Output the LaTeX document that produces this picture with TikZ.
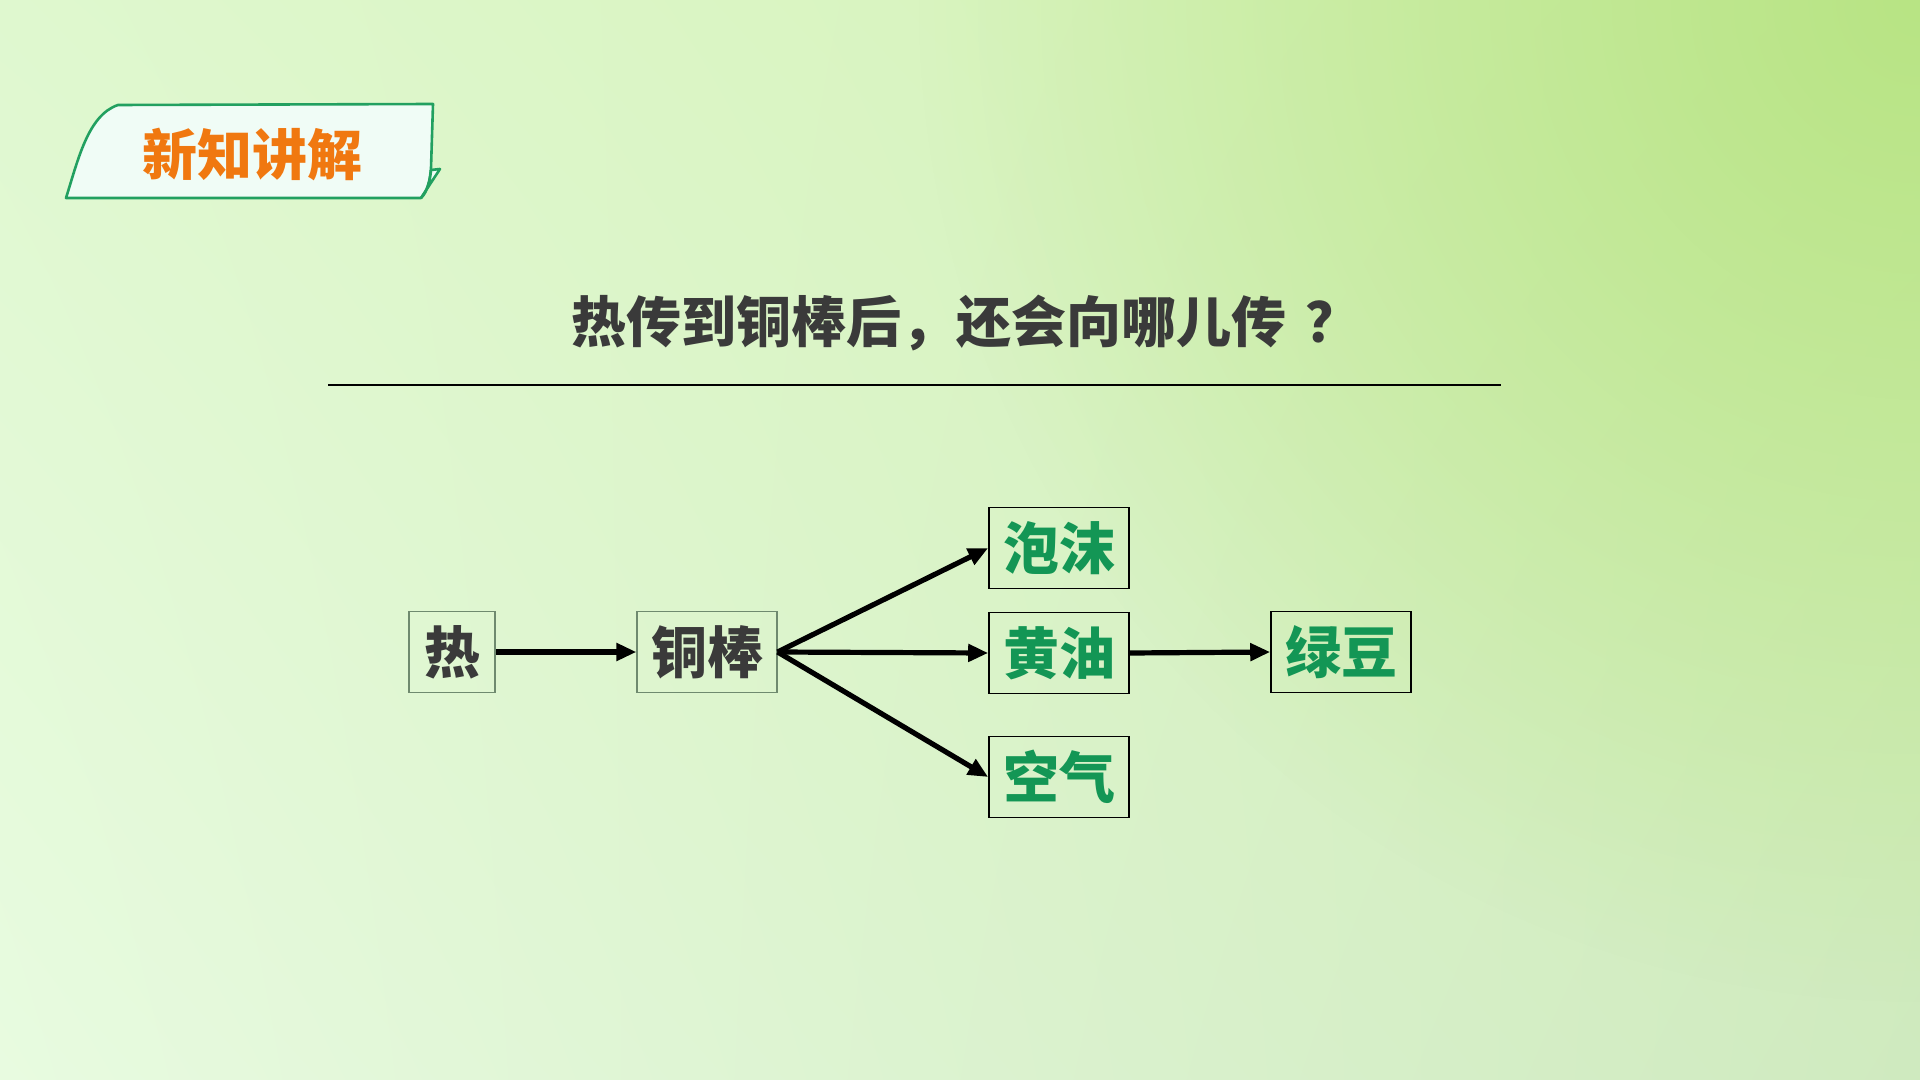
\documentclass[tikz,border=0pt]{standalone}
\usepackage{fontspec}
\newfontfamily\cjk{Noto Sans CJK SC}
\usetikzlibrary{arrows.meta,fadings,shadings}
\definecolor{bgTL}{HTML}{DFF8CF}
\definecolor{bgTR}{HTML}{D2F0B0}
\definecolor{bgBL}{HTML}{E8FBE0}
\definecolor{bgBR}{HTML}{CFEABF}
\definecolor{bgCorner}{HTML}{B8E484}
\definecolor{tabGreen}{HTML}{22A060}
\definecolor{tabFill}{HTML}{F0FCF6}
\definecolor{tabOrange}{HTML}{F07810}
\definecolor{darkText}{HTML}{3A3A3A}
\definecolor{greenText}{HTML}{139655}
\definecolor{grayBorder}{HTML}{6F8A6F}
\tikzfading[name=radfade, inner color=transparent!0, outer color=transparent!100]
\tikzset{
  srcbox/.style={draw=grayBorder, line width=0.6pt, minimum height=40.5pt, inner sep=0pt,
    font=\cjk\bfseries\fontsize{28}{28}\selectfont, text=darkText},
  dstbox/.style={draw=black, line width=0.8pt, minimum width=70pt, minimum height=40.5pt, inner sep=0pt,
    font=\cjk\bfseries\fontsize{28}{28}\selectfont, text=greenText},
  arr/.style={line width=2.6pt, -{Triangle[length=10pt,width=8.5pt]}}
}
\begin{document}
\begin{tikzpicture}[x=0.5pt,y=-0.5pt]
  % background
  \useasboundingbox (0,0) rectangle (1920,1080);
  \begin{scope}
    \clip (0,0) rectangle (1920,1080);
    \shade[upper left=bgTL, upper right=bgTR, lower left=bgBL, lower right=bgBR] (0,0) rectangle (1920,1080);
    \fill[bgCorner, path fading=radfade] (1920,0) circle [radius=500pt];
  \end{scope}
  % tab
  \draw[tabGreen, line width=1.3pt, fill=tabFill, line join=round]
    (66,198) .. controls (78,160) and (88,115) .. (118,105) -- (433,104) -- (431,168)
    .. controls (430,180) and (428,190) .. (421,198) -- cycle;
  \draw[tabGreen, line width=1.3pt, fill=tabFill, line join=round]
    (421,198) -- (440,169) -- (431,170) .. controls (430,182) and (427,192) .. (421,198);
  \node[font=\cjk\bfseries\fontsize{27.5}{28}\selectfont, text=tabOrange] (tab) at (252,155) {新知讲解};
  % title
  \node[font=\cjk\bfseries\fontsize{27.5}{28}\selectfont, text=darkText] (title) at (966,323) {热传到铜棒后，还会向哪儿传\kern10pt？};
  \coordinate (ruleL) at (328,385);
  \coordinate (ruleR) at (1501,385);
  \draw[line width=0.8pt, black] (ruleL) -- (ruleR);
  % nodes
  \node[srcbox, minimum width=43pt] (heat) at (452,652) {热};
  \node[srcbox, minimum width=70pt] (rod) at (707,652) {铜棒};
  \node[dstbox] (foam) at (1059,548) {泡沫};
  \node[dstbox] (butter) at (1059,653) {黄油};
  \node[dstbox] (air) at (1059,777) {空气};
  \node[dstbox] (bean) at (1341,652) {绿豆};
  % arrows
  \draw[arr] (heat.east) -- (rod.west);
  \draw[arr] (rod.east) -- (foam.west);
  \draw[arr] (rod.east) -- (butter.west);
  \draw[arr] (rod.east) -- (air.west);
  \draw[arr] (butter.east) -- (bean.west);
\end{tikzpicture}
\end{document}
